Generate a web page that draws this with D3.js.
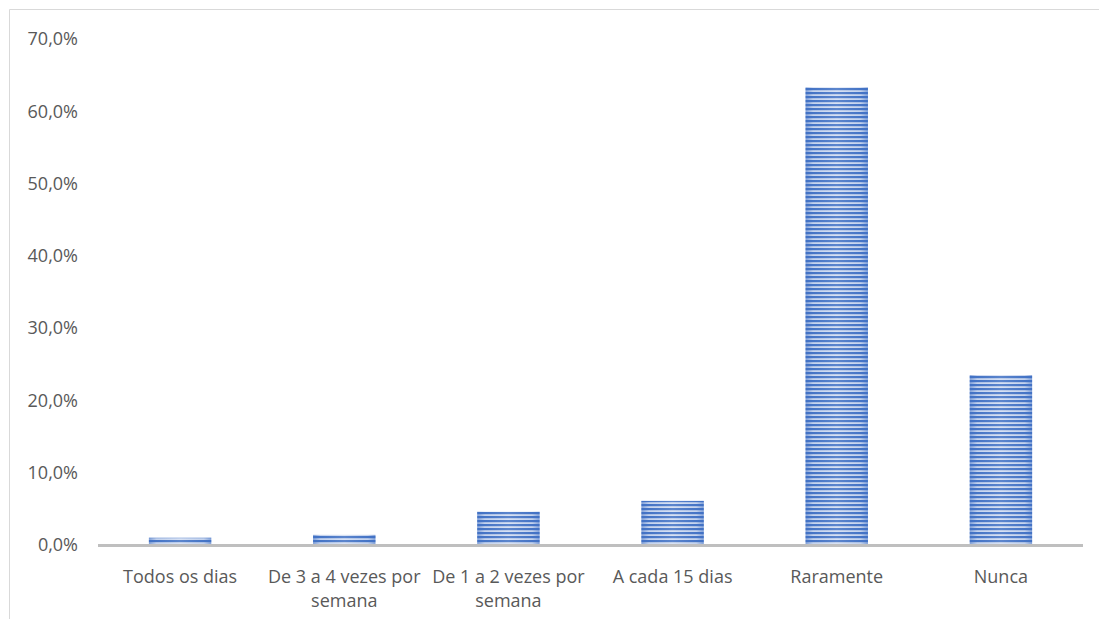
<!DOCTYPE html>
<html>
<head>
<meta charset="utf-8">
<script src="https://cdn.jsdelivr.net/npm/d3@7"></script>
<style>
  html, body { margin: 0; padding: 0; background: #fff; }
  svg { display: block; }
  text { font-family: "Open Sans", "Noto Sans", sans-serif; }
</style>
</head>
<body>
<svg id="chart" width="1099" height="619"></svg>
<script>
// Frequência de resposta (%)
const categories = [
  ["Todos os dias"],
  ["De 3 a 4 vezes por", "semana"],
  ["De 1 a 2 vezes por", "semana"],
  ["A cada 15 dias"],
  ["Raramente"],
  ["Nunca"]
];
const values = [1.0, 1.4, 4.6, 6.1, 63.3, 23.5];
const yTicks = [0, 10, 20, 30, 40, 50, 60, 70];

const W = 1099, H = 619;
const margin = { left: 98, right: 16, top: 39, bottom: 74 };
const svg = d3.select("#chart");

// outer frame
svg.append("path")
  .attr("d", `M9.5,${H} V9.5 H${W}`)
  .attr("fill", "none")
  .attr("stroke", "#d9d9d9")
  .attr("stroke-width", 1);

const x = d3.scaleBand()
  .domain(d3.range(categories.length))
  .range([margin.left, W - margin.right])
  .paddingInner(0.62)
  .paddingOuter(0.31);

const y = d3.scaleLinear()
  .domain([0, 70])
  .range([H - margin.bottom, margin.top]);

// striped fill with a soft horizontal shading
const defs = svg.append("defs");
const pat = defs.append("pattern")
  .attr("id", "stripes")
  .attr("patternUnits", "userSpaceOnUse")
  .attr("width", 8).attr("height", 4);
pat.append("rect").attr("width", 8).attr("height", 4).attr("fill", "#d3def2");
pat.append("rect").attr("y", 0).attr("width", 8).attr("height", 2.2).attr("fill", "#4675c6");

const grad = defs.append("linearGradient")
  .attr("id", "shade").attr("x1", 0).attr("x2", 1).attr("y1", 0).attr("y2", 0);
grad.append("stop").attr("offset", 0).attr("stop-color", "#3f6fc4").attr("stop-opacity", 0.55);
grad.append("stop").attr("offset", 0.12).attr("stop-color", "#3f6fc4").attr("stop-opacity", 0.1);
grad.append("stop").attr("offset", 0.5).attr("stop-color", "#ffffff").attr("stop-opacity", 0.12);
grad.append("stop").attr("offset", 0.88).attr("stop-color", "#3f6fc4").attr("stop-opacity", 0.1);
grad.append("stop").attr("offset", 1).attr("stop-color", "#3f6fc4").attr("stop-opacity", 0.55);

const bars = svg.append("g");
bars.selectAll("rect.bar")
  .data(values)
  .join("rect")
  .attr("class", "bar")
  .attr("x", (d, i) => x(i))
  .attr("y", d => y(d))
  .attr("width", x.bandwidth())
  .attr("height", d => y(0) - y(d))
  .attr("fill", "url(#stripes)");
bars.selectAll("rect.shade")
  .data(values)
  .join("rect")
  .attr("class", "shade")
  .attr("x", (d, i) => x(i))
  .attr("y", d => y(d))
  .attr("width", x.bandwidth())
  .attr("height", d => y(0) - y(d))
  .attr("fill", "url(#shade)");

// y axis labels
const fmt = v => v.toFixed(1).replace(".", ",") + "%";
const yAxis = d3.axisLeft(y).tickValues(yTicks).tickFormat(fmt).tickSize(0).tickPadding(20);
const gy = svg.append("g")
  .attr("transform", `translate(${margin.left},0)`)
  .call(yAxis);
gy.select(".domain").remove();
gy.selectAll("text")
  .attr("fill", "#595959")
  .style("font-size", "18px");

// x axis line
const xAxis = d3.axisBottom(x).tickSize(0).tickFormat("");
const gx = svg.append("g")
  .attr("transform", `translate(0,${y(0)})`)
  .call(xAxis);
gx.select(".domain")
  .attr("d", `M${margin.left},0.5H${W - margin.right}`)
  .attr("stroke", "#bfbfbf")
  .attr("stroke-width", 3);

// category labels
const lab = svg.append("g");
categories.forEach((lines, i) => {
  const t = lab.append("text")
    .attr("x", x(i) + x.bandwidth() / 2)
    .attr("y", y(0) + 38)
    .attr("text-anchor", "middle")
    .attr("fill", "#595959")
    .style("font-size", "18px");
  lines.forEach((ln, j) => {
    t.append("tspan")
      .attr("x", x(i) + x.bandwidth() / 2)
      .attr("dy", j === 0 ? 0 : 24)
      .text(ln);
  });
});
</script>
</body>
</html>
